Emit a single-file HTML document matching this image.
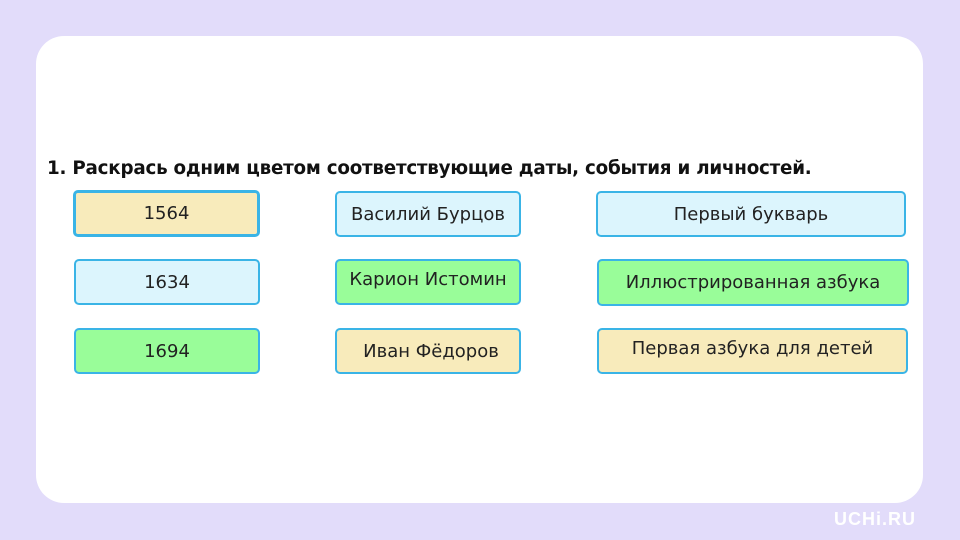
<!DOCTYPE html>
<html><head><meta charset="utf-8"><style>
body{margin:0;width:960px;height:540px;background:#e2dcfa;position:relative;overflow:hidden;font-family:"DejaVu Sans","Liberation Sans",sans-serif;}
.card{position:absolute;left:36px;top:36px;width:887px;height:467px;background:#fff;border-radius:28px;}
.t{position:absolute;left:47px;top:158px;font-size:18.3px;font-weight:bold;color:#111;white-space:nowrap;letter-spacing:-0.22px}
.b{position:absolute;box-sizing:border-box;border:2px solid #3ab4e6;border-radius:5px;display:flex;align-items:center;justify-content:center;font-size:18px;color:#222;white-space:nowrap}
.y{background:#f8ebbb}.l{background:#dcf5fd}.g{background:#99fd99}
.logo{position:absolute;left:834px;top:509px;color:#fff;font-size:18px;font-weight:bold;font-family:"Liberation Sans",sans-serif;letter-spacing:1px}
</style></head><body>
<div class="card"></div>
<div class="t">1. Раскрась одним цветом соответствующие даты, события и личностей.</div>
<div class="b y" style="left:73px;top:190px;width:187px;height:47px;border-width:3px">1564</div>
<div class="b l" style="left:74px;top:259px;width:186px;height:46px">1634</div>
<div class="b g" style="left:74px;top:328px;width:186px;height:46px">1694</div>
<div class="b l" style="left:335px;top:191px;width:186px;height:46px">Василий Бурцов</div>
<div class="b g" style="left:335px;top:259px;width:186px;height:46px;padding-bottom:6px">Карион Истомин</div>
<div class="b y" style="left:335px;top:328px;width:186px;height:46px;padding-left:6px">Иван Фёдоров</div>
<div class="b l" style="left:596px;top:191px;width:310px;height:46px">Первый букварь</div>
<div class="b g" style="left:597px;top:259px;width:312px;height:47px">Иллюстрированная азбука</div>
<div class="b y" style="left:597px;top:328px;width:311px;height:46px;padding-bottom:5px">Первая азбука для детей</div>
<div class="logo">UCHi.RU</div>
</body></html>
